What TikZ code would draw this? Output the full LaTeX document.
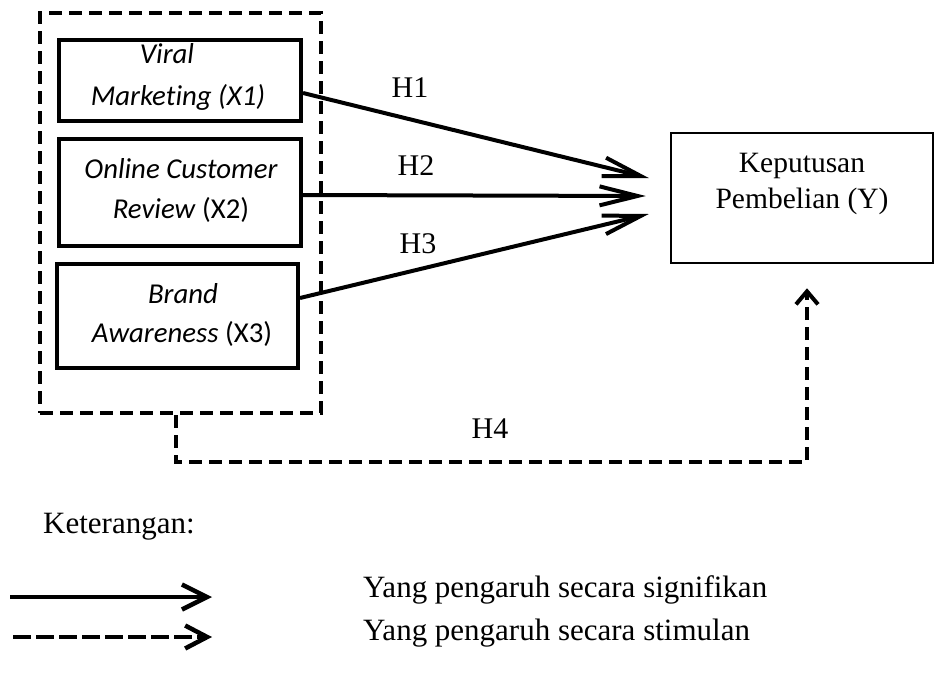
\documentclass[tikz,border=0pt]{standalone}
\usepackage{fontspec}
\setmainfont{Liberation Serif}
\newfontfamily\calfont[Ligatures=CommonOff]{Carlito}
\usetikzlibrary{arrows.meta}
\begin{document}
\begin{tikzpicture}[x=1pt,y=-1pt,
  varbox/.style={draw, line width=4pt, inner sep=0pt},
  ybox/.style={draw, line width=2.5pt, inner sep=0pt},
  grpbox/.style={draw, line width=4pt, dash pattern=on 13pt off 7pt, inner sep=0pt},
  vtxt/.style={anchor=base, inner sep=0pt, font=\calfont\fontsize{28.8}{34}\selectfont},
  stxt/.style={anchor=base, inner sep=0pt, font=\fontsize{30}{36}\selectfont},
  ltxt/.style={anchor=base west, inner sep=0pt, font=\fontsize{31}{37}\selectfont},
  sig/.style={line width=4pt, -{Straight Barb[length=38pt,width=19pt]}},
  sim/.style={line width=4pt, dash pattern=on 13pt off 7pt, -{Straight Barb[length=13pt,width=22pt]}},
  legsig/.style={line width=4.5pt, -{Straight Barb[length=25pt,width=25pt]}},
  legsim/.style={line width=4.5pt, dash pattern=on 18pt off 5pt, -{Straight Barb[length=22pt,width=23pt]}},
]
\useasboundingbox (0,0) rectangle (937,675);

% group box
\node[grpbox, minimum width=281pt, minimum height=400pt] (grp) at (180.5,213) {};

% variable boxes
\node[varbox, minimum width=242pt, minimum height=81pt] (X1) at (180,80.5) {};
\node[varbox, minimum width=242pt, minimum height=107pt] (X2) at (180,192.5) {};
\node[varbox, minimum width=241pt, minimum height=104pt] (X3) at (177.5,316) {};
\node[ybox, minimum width=262pt, minimum height=130pt] (Y) at (802,198) {};

% box texts
\node[vtxt] (x1a) at (167,63) {\itshape Viral};
\node[vtxt] (x1b) at (178,105) {\itshape Marketing (X1)};
\node[vtxt] (x2a) at (181,178) {\itshape Online Customer};
\node[vtxt] (x2b) at (181,218) {\itshape Review\/\upshape{} (X2)};
\node[vtxt] (x3a) at (183,303) {\itshape Brand};
\node[vtxt] (x3b) at (182,342) {\itshape Awareness\/\upshape{} (X3)};
\node[stxt, font=\fontsize{29.5}{35}\selectfont] (ya) at (802,172) {Keputusan};
\node[stxt, font=\fontsize{29.5}{35}\selectfont] (yb) at (802,208) {Pembelian (Y)};

% hypothesis labels
\node[stxt] (h1) at (410,97) {H1};
\node[stxt] (h2) at (416,175) {H2};
\node[stxt] (h3) at (418,253) {H3};
\node[stxt] (h4) at (490,438) {H4};

% arrows
\draw[sig] ([yshift=-12.5pt]X1.east) -- ([xshift=-21pt,yshift=20pt]Y.west);
\draw[sig] ([yshift=-2.5pt]X2.east) -- ([xshift=-24pt,yshift=2pt]Y.west);
\draw[sig] ([yshift=18pt]X3.east) -- ([xshift=-21pt,yshift=-16pt]Y.west);

\coordinate (h4a) at (176,462);
\coordinate (h4b) at (807,462);
\draw[sim] ([xshift=-4.5pt]grp.south) -- (h4a) -- (h4b) -- ([xshift=5pt,yshift=-24pt]Y.south);

% legend
\node[ltxt] (ket) at (43,533) {Keterangan:};
\coordinate (l1a) at (10,597);
\coordinate (l1b) at (212,597);
\coordinate (l2a) at (13,637);
\coordinate (l2b) at (212,637);
\draw[legsig] (l1a) -- (l1b);
\draw[legsim] (l2a) -- (l2b);
\node[ltxt] (lt1) at (363,597) {Yang pengaruh secara signifikan};
\node[ltxt] (lt2) at (363,640) {Yang pengaruh secara stimulan};
\end{tikzpicture}
\end{document}
